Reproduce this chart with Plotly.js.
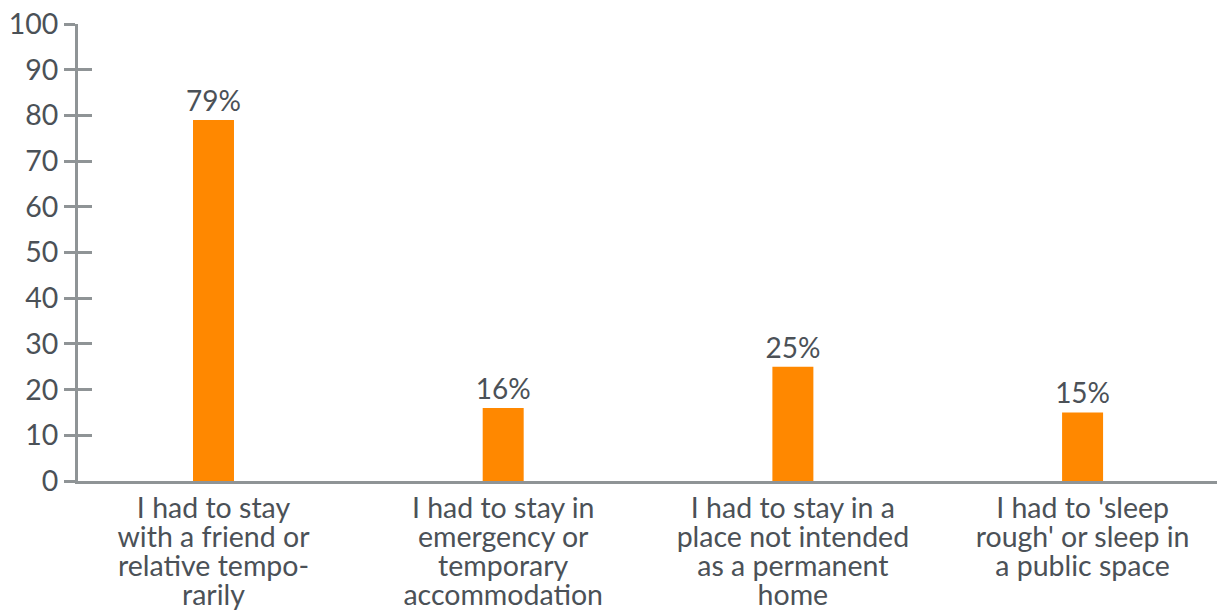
<!DOCTYPE html>
<html>
<head>
<meta charset="utf-8">
<script src="https://cdn.plot.ly/plotly-3.0.1.min.js"></script>
<style>html,body{margin:0;padding:0;background:#fff;}#chart{width:1217px;height:610px;}</style>
</head>
<body>
<div id="chart"></div>
<script>
const categories = [
  "I had to stay<br>with a friend or<br>relative tempo-<br>rarily",
  "I had to stay in<br>emergency or<br>temporary<br>accommodation",
  "I had to stay in a<br>place not intended<br>as a permanent<br>home",
  "I had to 'sleep<br>rough' or sleep in<br>a public space"
];
const values = [79, 16, 25, 15];
const valueLabels = ["79%", "16%", "25%", "15%"];
const yTicks = [0, 10, 20, 30, 40, 50, 60, 70, 80, 90, 100];

const textColor = "#4b5157";
const axisColor = "#8f9496";
const fontFamily = "Lato, 'Open Sans', sans-serif";

const trace = {
  type: "bar",
  x: categories,
  y: values,
  text: valueLabels,
  textposition: "outside",
  constraintext: "none",
  cliponaxis: false,
  textfont: {family: fontFamily, size: 28, color: textColor},
  marker: {color: "#ff8800"},
  width: 0.1415,
  hoverinfo: "none"
};
const ghost = {
  type: "scatter", x: [categories[0]], y: [0], yaxis: "y2",
  mode: "markers", marker: {opacity: 0}, showlegend: false, hoverinfo: "none"
};

const layout = {
  width: 1217, height: 610,
  margin: {l: 78, r: 0, t: 24, b: 129},
  paper_bgcolor: "#ffffff", plot_bgcolor: "#ffffff",
  showlegend: false,
  font: {family: fontFamily, color: textColor},
  xaxis: {
    type: "category",
    range: [-0.4677, 3.464],
    showline: true, linecolor: axisColor, linewidth: 3,
    showgrid: false, zeroline: false, ticks: "",
    tickfont: {family: fontFamily, size: 28.5, color: textColor},
    ticklabelstandoff: 0
  },
  yaxis: {
    range: [0, 100],
    tickvals: yTicks,
    ticktext: yTicks.map(String),
    showline: true, linecolor: axisColor, linewidth: 3,
    ticks: "outside", ticklen: 11, tickwidth: 3, tickcolor: axisColor,
    showgrid: false, zeroline: false,
    tickfont: {family: fontFamily, size: 28.5, color: textColor},
    ticklabelstandoff: 0
  },
  yaxis2: {
    overlaying: "y", side: "left", anchor: "x",
    range: [0, 100], tickvals: yTicks,
    showticklabels: false, showline: false, showgrid: false, zeroline: false,
    ticks: "inside", ticklen: 14, tickwidth: 3, tickcolor: axisColor
  }
};

Plotly.newPlot("chart", [trace, ghost], layout, {displayModeBar: false, staticPlot: true}).then(function (gd) {
  // tighten the line spacing of the wrapped category labels
  const k = 1.02 / 1.3;
  gd.querySelectorAll(".xtick text tspan.line").forEach(function (t) {
    const dy = t.getAttribute("dy");
    if (dy && dy.endsWith("em")) {
      t.setAttribute("dy", (parseFloat(dy) * k) + "em");
    }
  });
});
</script>
</body>
</html>
